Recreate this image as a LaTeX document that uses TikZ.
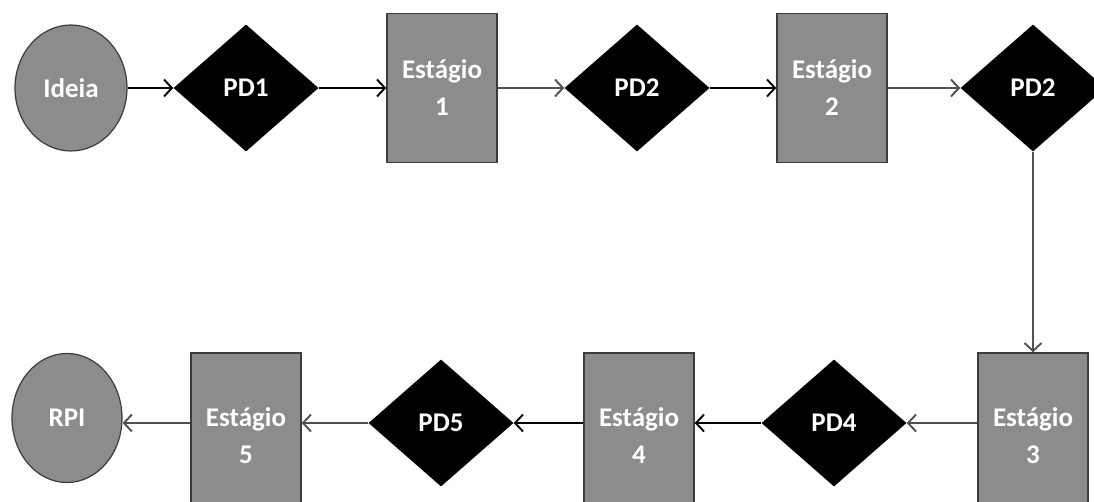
\documentclass[tikz,border=0pt]{standalone}
\usepackage{fontspec}
\setmainfont{Carlito}
\usetikzlibrary{shapes.geometric,arrows.meta}
\definecolor{boxgray}{HTML}{8C8C8C}
\definecolor{edgegray}{HTML}{3C3C3C}
\definecolor{linegray}{HTML}{505050}
\begin{document}
\begin{tikzpicture}[x=1pt,y=-1pt,
  txt/.style={font=\fontsize{27}{37}\selectfont\bfseries, text=white, align=center},
  stagebox/.style={txt, rectangle, draw=edgegray, line width=1.4pt, fill=boxgray,
    minimum width=110pt, minimum height=149pt, inner sep=0pt},
  lowbox/.style={stagebox, minimum height=166pt},
  gate/.style={txt, diamond, fill=black, minimum width=145pt, minimum height=127pt, inner sep=0pt},
  endpoint/.style={txt, ellipse, draw=edgegray, line width=1.2pt, fill=boxgray,
    minimum width=112pt, minimum height=126pt, inner sep=0pt},
  flow/.style={line width=1.9pt, draw=black, -{Straight Barb[length=8pt,width=17pt,line width=1.9pt]}},
  flowg/.style={flow, draw=linegray}
]
\useasboundingbox (0,0) rectangle (1094,502);
\clip (0,0) rectangle (1094,502);

% top row
\node[endpoint] (ideia) at (71,88) {Ideia};
\node[gate] (pd1) at (246,88) {PD1};
\node[stagebox] (s1) at (442,88) {Estágio\\1};
\node[gate] (pd2a) at (637,88) {PD2};
\node[stagebox] (s2) at (832,88) {Estágio\\2};
\node[gate] (pd2b) at (1033,88) {PD2};

% bottom row
\node[lowbox] (s3) at (1033,436) {Estágio\\3};
\node[gate] (pd4) at (834,423) {PD4};
\node[lowbox] (s4) at (639,436) {Estágio\\4};
\node[gate] (pd5) at (441,423) {PD5};
\node[lowbox] (s5) at (246,436) {Estágio\\5};
\node[endpoint, minimum width=110pt, minimum height=129pt] (rpi) at (67,418) {RPI};

% connectors
\draw[flow] (ideia) -- (pd1);
\draw[flow] (pd1) -- (s1);
\draw[flowg] (s1) -- (pd2a);
\draw[flow] (pd2a) -- (s2);
\draw[flowg] (s2) -- (pd2b);
\draw[flowg] (pd2b.south) -- (s3.north);
\draw[flowg] (s3.west |- pd4.east) -- (pd4.east);
\draw[flow] (pd4.west) -- (s4.east |- pd4.west);
\draw[flow] (s4.west |- pd5.east) -- (pd5.east);
\draw[flowg] (pd5.west) -- (s5.east |- pd5.west);
\draw[flowg] (s5.west |- pd5.west) -- (rpi.east |- pd5.west);
\end{tikzpicture}
\end{document}
